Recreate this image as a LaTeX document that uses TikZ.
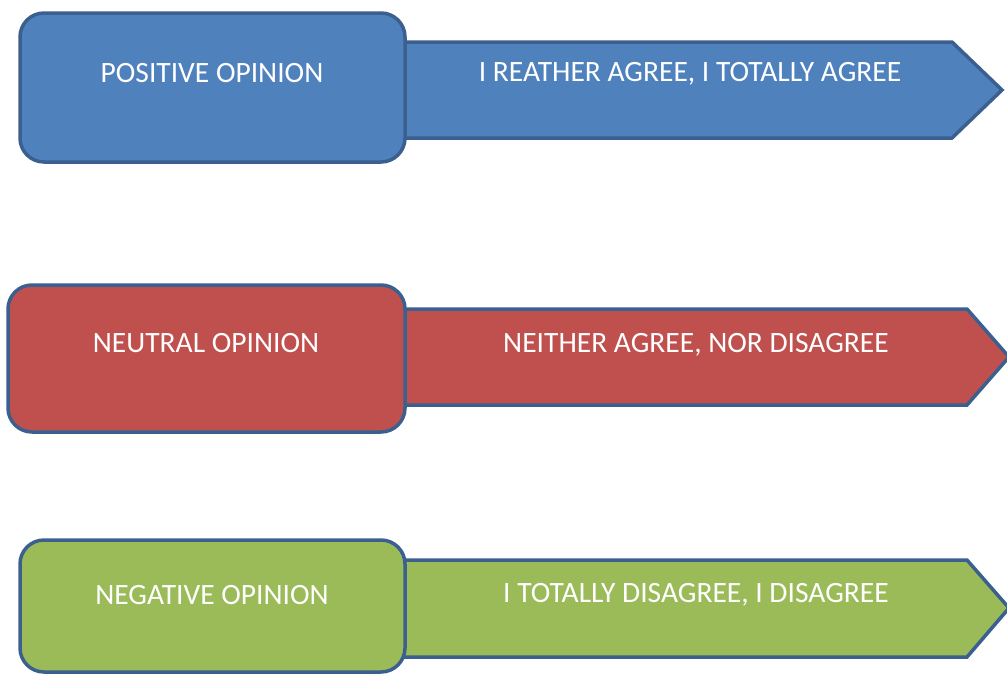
\documentclass[tikz,border=0pt]{standalone}
\usepackage{fontspec}
\setmainfont{Carlito}
\definecolor{posblue}{HTML}{4F81BD}
\definecolor{neured}{HTML}{C0504D}
\definecolor{neggreen}{HTML}{9BBB59}
\definecolor{rimblue}{HTML}{3B6090}

\begin{document}
\begin{tikzpicture}[x=1pt, y=-1pt,
  every node/.style={font=\fontsize{29.5}{34}\selectfont, text=white, inner sep=0pt},
  box/.style={draw=rimblue, line width=3.5pt, rounded corners=24pt},
  arrowbody/.style={draw=rimblue, line width=3.5pt, line join=miter}]
  \useasboundingbox (0,0) rectangle (1007,675);
  % arrows
  \filldraw[arrowbody, fill=posblue]  (380,42) -- (952,42) -- (1002,90) -- (952,138) -- (380,138) -- cycle;
  \filldraw[arrowbody, fill=neured]   (380,309) -- (967,309) -- (1009,357) -- (967,405) -- (380,405) -- cycle;
  \filldraw[arrowbody, fill=neggreen] (380,560) -- (967,560) -- (1009,608) -- (967,657) -- (380,657) -- cycle;
  % boxes
  \filldraw[box, fill=posblue]  (20,13) rectangle (405,162);
  \filldraw[box, fill=neured]   (8,285) rectangle (405,432);
  \filldraw[box, fill=neggreen] (20,540) rectangle (405,672);
  % labels
  \node (pos)    at (212,73)  {POSITIVE OPINION};
  \node (posans) at (690,74)  {I REATHER AGREE, I TOTALLY AGREE};
  \node (neu)    at (206,343) {NEUTRAL OPINION};
  \node (neuans) at (696,345) {NEITHER AGREE, NOR DISAGREE};
  \node (neg)    at (212,595) {NEGATIVE OPINION};
  \node (negans) at (696,595) {I TOTALLY DISAGREE, I DISAGREE};
\end{tikzpicture}
\end{document}
